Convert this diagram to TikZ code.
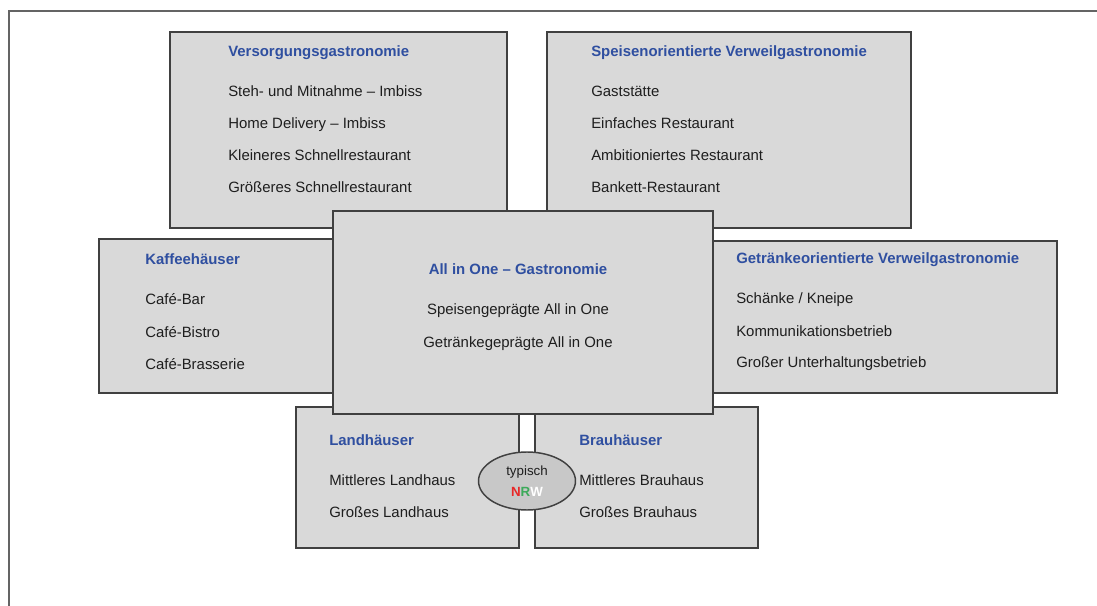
\documentclass[tikz,border=0pt]{standalone}
\usepackage{fontspec}
\setmainfont{Liberation Sans}
\usetikzlibrary{positioning,shapes.geometric}
\definecolor{boxFill}{RGB}{217,217,217}
\definecolor{boxLine}{RGB}{64,64,64}
\definecolor{frameColor}{RGB}{100,100,100}
\definecolor{titleBlue}{RGB}{47,79,160}
\definecolor{itemColor}{RGB}{30,30,30}
\definecolor{ovalFill}{RGB}{200,200,200}
\definecolor{nrwRed}{RGB}{232,40,40}
\definecolor{nrwGreen}{RGB}{60,170,90}
\tikzstyle{plan} = [x=0.75pt, y=-0.75pt]
\tikzstyle{boxStyle} = [draw=boxLine, fill=boxFill, line width=1.1pt]
\tikzstyle{frameLine} = [draw=frameColor, line width=1.2pt]
\tikzstyle{titleText} = [font=\fontsize{11.2}{13}\selectfont\bfseries, text=titleBlue, anchor=base west, inner sep=0pt]
\tikzstyle{itemText} = [font=\fontsize{11.2}{13}\selectfont, text=itemColor, anchor=base west, inner sep=0pt]
\tikzstyle{ovalStyle} = [ellipse, draw=boxLine, fill=ovalFill, line width=1.1pt, minimum width=72.75pt, minimum height=43.5pt, inner sep=0pt]
\tikzstyle{ovalText} = [font=\fontsize{10}{12}\selectfont, text=itemColor, anchor=base, inner sep=0pt]
\newcommand{\categoryBox}[5]{\filldraw [boxStyle] (#2,#3) rectangle (#4,#5); \coordinate (#1) at (#2,#3);}
\newcommand{\categoryItems}[6][]{
  \node [titleText, #1] (#2Title) at (#3,#4) {#5};
  \foreach \entry [count=\i] in {#6} {
    \pgfmathsetmacro{\var}{#4 + 8 + 32 * \i}
    \node [itemText, #1] (#2Item\i) at (#3,\var) {\entry};
  }
}
\begin{document}
\begin{tikzpicture}[plan]
  \useasboundingbox (0,0) rectangle (1097,606);
  \draw [frameLine] (1097,11) -- (9,11) -- (9,606);
  % outer boxes
  \categoryBox{versorgung}{170}{32}{507}{228}
  \categoryItems{versorgung}{228}{57}{Versorgungsgastronomie}{Steh- und Mitnahme – Imbiss, Home Delivery – Imbiss, Kleineres Schnellrestaurant, Größeres Schnellrestaurant}
  \categoryBox{speisen}{547}{32}{911}{228}
  \categoryItems{speisen}{591}{57}{Speisenorientierte Verweilgastronomie}{Gaststätte, Einfaches Restaurant, Ambitioniertes Restaurant, Bankett-Restaurant}
  \categoryBox{kaffee}{99}{239}{400}{393}
  \categoryItems{kaffee}{145}{265}{Kaffeehäuser}{Café-Bar, Café-Bistro, Café-Brasserie}
  \categoryBox{getraenke}{650}{241}{1057}{393}
  \categoryItems{getraenke}{736}{264}{Getränkeorientierte Verweilgastronomie}{Schänke / Kneipe, Kommunikationsbetrieb, Großer Unterhaltungsbetrieb}
  \categoryBox{land}{296}{407}{519}{548}
  \categoryItems{land}{329}{445}{Landhäuser}{Mittleres Landhaus, Großes Landhaus}
  \categoryBox{brau}{535}{407}{758}{548}
  \categoryItems{brau}{579}{445}{Brauhäuser}{Mittleres Brauhaus, Großes Brauhaus}
  % centre box on top
  \categoryBox{allInOne}{333}{211}{713}{414}
  \categoryItems[anchor=base]{allInOne}{518}{275}{All in One – Gastronomie}{Speisengeprägte  All in One, Getränkegeprägte  All in One}
  % NRW oval
  \node [ovalStyle] (nrwOval) at (527,481) {};
  \node [ovalText] (typischText) at (527,475) {typisch};
  \node [ovalText, font=\fontsize{10}{12}\selectfont\bfseries] (nrwText) at (527,496) {\textcolor{nrwRed}{N}\textcolor{nrwGreen}{R}\textcolor{white}{W}};
\end{tikzpicture}
\end{document}
